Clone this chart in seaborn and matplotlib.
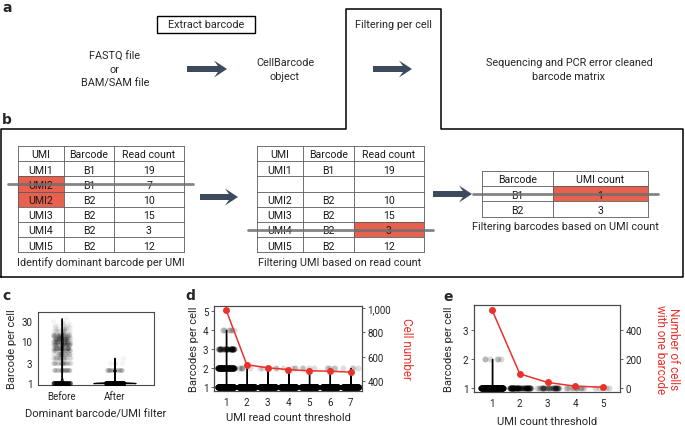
import numpy as np
import pandas as pd
import seaborn as sns
import matplotlib.pyplot as plt
from matplotlib.patches import Rectangle, FancyArrow
from matplotlib.ticker import FuncFormatter

# ---- panel b tables ----
t1_umi = ['UMI1', 'UMI2', 'UMI2', 'UMI3', 'UMI4', 'UMI5']
t1_barcode = ['B1', 'B1', 'B2', 'B2', 'B2', 'B2']
t1_reads = ['19', '7', '10', '15', '3', '12']
t2_umi = ['UMI1', '', 'UMI2', 'UMI3', 'UMI4', 'UMI5']
t2_barcode = ['B1', '', 'B2', 'B2', 'B2', 'B2']
t2_reads = ['19', '', '10', '15', '3', '12']
t3_barcode = ['B1', 'B2']
t3_umi_count = ['1', '3']

# ---- panel c: barcodes per cell before / after dominant barcode filter ----
before_bc = [1, 2, 3, 4, 5, 6, 7, 8, 9, 10, 11, 12, 13, 14, 15, 17, 19, 21, 24, 27, 30, 35]
before_n = [260, 45, 40, 35, 38, 40, 42, 40, 38, 35, 30, 27, 24, 20, 17, 14, 10, 7, 5, 3, 2, 1]
after_bc = [1, 2, 3, 4]
after_n = [680, 40, 4, 1]

# ---- panel d: UMI read count threshold ----
d_threshold = [1, 2, 3, 4, 5, 6, 7]
d_n_bc1 = [560, 480, 470, 465, 460, 458, 455]
d_n_bc2 = [250, 6, 5, 4, 4, 5, 4]
d_n_bc3 = [60, 0, 0, 0, 0, 0, 0]
d_n_bc4 = [8, 0, 0, 0, 0, 0, 0]
d_cell_number = [985, 533, 508, 493, 483, 480, 472]

# ---- panel e: UMI count threshold ----
e_threshold = [1, 2, 3, 4, 5]
e_n_bc1 = [530, 97, 38, 12, 5]
e_n_bc2 = [6, 0, 0, 0, 0]
e_one_barcode = [538, 97, 38, 12, 5]

RED = '#E8322B'
RED_CELL = '#E8614E'
ARROW = '#3C4A5E'
GRID = '#5a5a5a'
FRAME = '#4a4a4a'

sns.set_style('white')
plt.rcParams['font.family'] = ['Roboto', 'DejaVu Sans']
plt.rcParams['axes.linewidth'] = 0.8
np.random.seed(3)


def long_df(thresholds, counts_by_bc):
    rows = []
    for bc, counts in counts_by_bc.items():
        for t, n in zip(thresholds, counts):
            rows.append(pd.DataFrame({'threshold': [t] * n, 'barcodes': [bc] * n}))
    return pd.concat(rows, ignore_index=True)


def draw_table(ax, col_x, top, row_h, header, columns, red_cells=(), strike=None):
    rows = [header] + [list(r) for r in zip(*columns)]
    n = len(rows)
    for r, c in red_cells:
        ax.add_patch(Rectangle((col_x[c], top + r * row_h), col_x[c + 1] - col_x[c], row_h,
                               facecolor=RED_CELL, lw=0, zorder=1))
    for i in range(n + 1):
        ax.plot([col_x[0], col_x[-1]], [top + i * row_h] * 2, color=GRID, lw=0.6, zorder=2)
    for x in col_x:
        ax.plot([x, x], [top, top + n * row_h], color=GRID, lw=0.6, zorder=2)
    for r, row in enumerate(rows):
        for c, txt in enumerate(row):
            ax.text((col_x[c] + col_x[c + 1]) / 2, top + (r + 0.55) * row_h, txt,
                    ha='center', va='center', fontsize=7.6, color='#1a1a1a', zorder=3)
    if strike is not None:
        r, x0, x1 = strike
        y = top + (r + 0.5) * row_h
        ax.plot([x0, x1], [y, y], color='#6e6e6e', lw=2.0, alpha=0.85, zorder=4)


def arrow(ax, x0, x1, y):
    ax.add_patch(FancyArrow(x0, y, x1 - x0, 0, width=6, head_width=17, head_length=13,
                            overhang=0.3, length_includes_head=True, color=ARROW, lw=0))


def px_rect(x0, y0, x1, y1):
    return [x0 / 685, 1 - y1 / 427, (x1 - x0) / 685, (y1 - y0) / 427]


def style_axes(ax):
    for s in ax.spines.values():
        s.set_visible(True)
        s.set_color(FRAME)
        s.set_linewidth(0.8)
    ax.tick_params(direction='out', length=2.5, width=0.6, color=FRAME,
                   labelsize=7, labelcolor='#222222', pad=1.5)


TXT = 7.8
fig = plt.figure(figsize=(6.85, 4.27), dpi=100)
bg = fig.add_axes([0, 0, 1, 1])
bg.set_xlim(0, 685)
bg.set_ylim(427, 0)
bg.axis('off')

# ---- panel a ----
bg.text(2, 8, 'a', fontsize=10, fontweight='bold', family='DejaVu Sans', va='center')
bg.add_patch(Rectangle((157, 17), 98, 17, fill=False, ec='black', lw=1))
bg.text(206, 25.5, 'Extract barcode', fontsize=TXT, ha='center', va='center')
bg.text(115, 70, 'FASTQ file\nor\nBAM/SAM file', fontsize=TXT, ha='center', va='center', linespacing=1.4)
bg.text(285, 70, 'CellBarcode\nobject', fontsize=TXT, ha='center', va='center', linespacing=1.4)
bg.text(393, 25, 'Filtering per cell', fontsize=TXT, ha='center', va='center')
bg.text(569, 70, 'Sequencing and PCR error cleaned\nbarcode matrix', fontsize=TXT,
        ha='center', va='center', linespacing=1.4)
arrow(bg, 187, 227, 70)
arrow(bg, 373, 412, 70)

# ---- panel b frame (joined with the filtering box) ----
bg.plot([1, 1, 346, 346, 441, 441, 683, 683, 1], [278, 130, 130, 10, 10, 130, 130, 278, 278],
        color='black', lw=1.1)
bg.text(2, 120, 'b', fontsize=10, fontweight='bold', family='DejaVu Sans', va='center')

draw_table(bg, [18, 64, 114, 184], 147, 15.2, ['UMI', 'Barcode', 'Read count'],
           [t1_umi, t1_barcode, t1_reads], red_cells=[(2, 0), (3, 0)], strike=(2, 8, 193))
bg.text(101, 263, 'Identify dominant barcode per UMI', fontsize=TXT, ha='center', va='center')
arrow(bg, 200, 238, 198)

draw_table(bg, [257, 303, 354, 424], 147, 15.2, ['UMI', 'Barcode', 'Read count'],
           [t2_umi, t2_barcode, t2_reads], red_cells=[(5, 2)], strike=(5, 248, 433))
bg.text(340, 263, 'Filtering UMI based on read count', fontsize=TXT, ha='center', va='center')
arrow(bg, 433, 472, 195)

draw_table(bg, [482, 553, 648], 172, 15.2, ['Barcode', 'UMI count'],
           [t3_barcode, t3_umi_count], red_cells=[(1, 1)], strike=(1, 473, 658))
bg.text(565, 227, 'Filtering barcodes based on UMI count', fontsize=TXT, ha='center', va='center')

# ---- panel c ----
bg.text(2, 296, 'c', fontsize=10, fontweight='bold', family='DejaVu Sans', va='center')
c_df = pd.concat([
    pd.DataFrame({'filter': 'Before', 'barcodes': np.repeat(before_bc, before_n)}),
    pd.DataFrame({'filter': 'After', 'barcodes': np.repeat(after_bc, after_n)}),
], ignore_index=True)
axc = fig.add_axes(px_rect(38, 313, 154, 386))
sns.violinplot(data=c_df, x='filter', y='barcodes', order=['Before', 'After'], log_scale=True,
               cut=0, inner=None, color='white', linecolor='black', linewidth=0.9,
               width=0.8, bw_adjust=0.6, saturation=1, ax=axc)
sns.stripplot(data=c_df, x='filter', y='barcodes', order=['Before', 'After'], jitter=0.17,
              color='black', alpha=0.045, size=3.5, linewidth=0, ax=axc)
axc.set_xlim(-0.45, 1.75)
axc.set_ylim(0.9, 49)
axc.set_yticks([1, 3, 10, 30])
axc.set_yticklabels(['1', '3', '10', '30'])
axc.minorticks_off()
axc.set_xlabel('Dominant barcode/UMI filter', fontsize=8, labelpad=6)
axc.set_ylabel('Barcode per cell', fontsize=8, labelpad=3)
style_axes(axc)

# ---- panel d ----
bg.text(185, 296, 'd', fontsize=10, fontweight='bold', family='DejaVu Sans', va='center')
d_df = long_df(d_threshold, {1: d_n_bc1, 2: d_n_bc2, 3: d_n_bc3, 4: d_n_bc4})
axd = fig.add_axes(px_rect(214, 307, 362, 392))
sns.stripplot(data=d_df, x='threshold', y='barcodes', native_scale=True, jitter=0.4,
              color='black', alpha=0.13, size=4.3, linewidth=0, ax=axd, zorder=2)
sns.violinplot(data=d_df, x='threshold', y='barcodes', native_scale=True, cut=0, inner=None,
               color='black', linecolor='black', linewidth=1.0, width=0.8, bw_adjust=0.4,
               saturation=1, ax=axd, zorder=3)
axd.set_xlim(0.42, 7.55)
axd.set_ylim(0.8, 5.25)
axd.set_xticks(d_threshold)
axd.set_yticks([1, 2, 3, 4, 5])
axd.set_xlabel('UMI read count threshold', fontsize=8, labelpad=4)
axd.set_ylabel('Barcodes per cell', fontsize=8, labelpad=3)
style_axes(axd)
axd2 = axd.twinx()
sns.lineplot(x=d_threshold, y=d_cell_number, ax=axd2, color=RED, marker='o', markersize=5,
             markeredgewidth=0, lw=1.1)
axd2.set_ylim(317, 1016)
axd2.set_yticks([400, 600, 800, 1000])
axd2.yaxis.set_major_formatter(FuncFormatter(lambda v, p: f'{v:,.0f}'))
axd2.set_ylabel('Cell number', fontsize=8.5, color=RED, rotation=-90, va='bottom', labelpad=6)
style_axes(axd2)

# ---- panel e ----
bg.text(443, 297, 'e', fontsize=10, fontweight='bold', family='DejaVu Sans', va='center')
e_df = long_df(e_threshold, {1: e_n_bc1, 2: e_n_bc2})
axe = fig.add_axes(px_rect(474, 306, 620, 393))
sns.stripplot(data=e_df, x='threshold', y='barcodes', native_scale=True, jitter=0.4,
              color='black', alpha=0.15, size=4.3, linewidth=0, ax=axe, zorder=2)
sns.violinplot(data=e_df[e_df['threshold'] == e_threshold[0]], x='threshold', y='barcodes',
               native_scale=True, cut=0, inner=None, color='black', linecolor='black',
               linewidth=1.0, width=0.8, bw_adjust=0.4, saturation=1, ax=axe, zorder=3)
axe.set_xlim(0.35, 5.61)
axe.set_ylim(0.86, 3.86)
axe.set_xticks(e_threshold)
axe.set_yticks([1, 2, 3])
axe.set_xlabel('UMI count threshold', fontsize=8, labelpad=6)
axe.set_ylabel('Barcodes per cell', fontsize=8, labelpad=6)
style_axes(axe)
axe2 = axe.twinx()
sns.lineplot(x=e_threshold, y=e_one_barcode, ax=axe2, color=RED, marker='o', markersize=5,
             markeredgewidth=0, lw=1.1)
axe2.set_ylim(-28, 572)
axe2.set_yticks([0, 200, 400])
axe2.set_ylabel('Number of cells\nwith one barcode', fontsize=8.5, color=RED, rotation=-90,
                va='bottom', labelpad=9, linespacing=1.0)
style_axes(axe2)

fig.savefig('out.png', dpi=100)
